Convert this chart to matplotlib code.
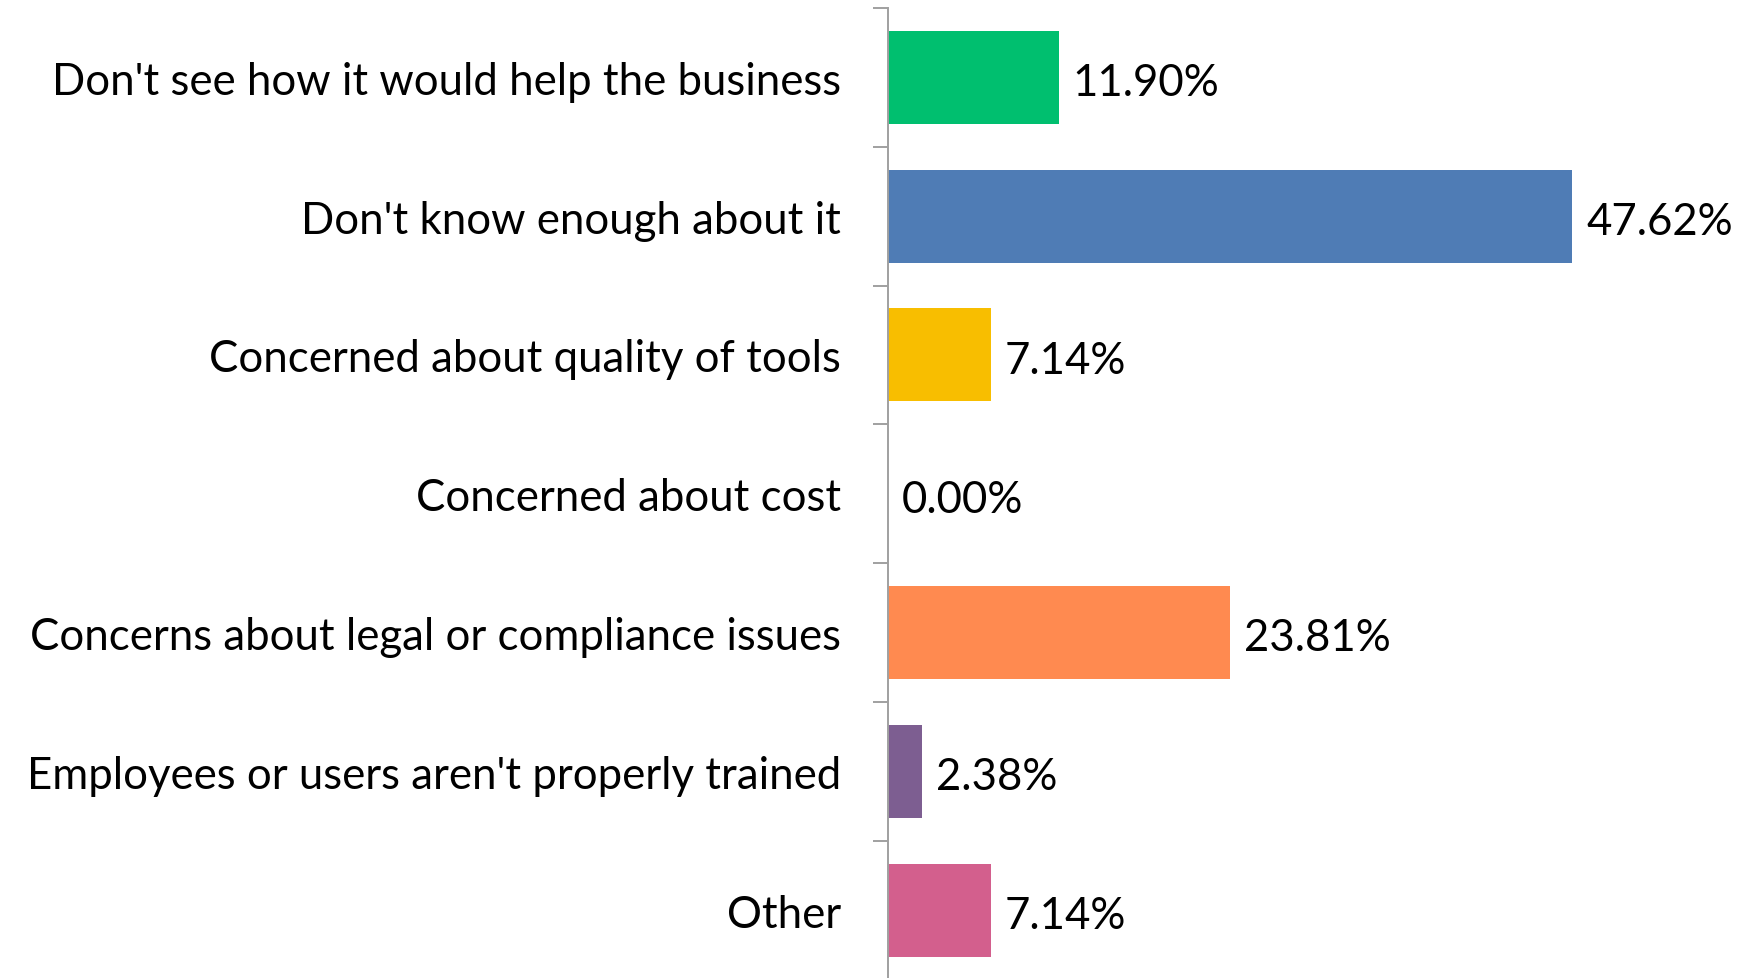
import numpy as np
import matplotlib.pyplot as plt

categories = [
    "Don't see how it would help the business",
    "Don't know enough about it",
    "Concerned about quality of tools",
    "Concerned about cost",
    "Concerns about legal or compliance issues",
    "Employees or users aren't properly trained",
    "Other",
]
values = [11.90, 47.62, 7.14, 0.00, 23.81, 2.38, 7.14]
colors = ['#00BF6F', '#4F7CB5', '#F8BE00', '#A5A5A5', '#FF8A50', '#7D5E91', '#D35F8D']

plt.rcParams['font.family'] = ['Lato', 'DejaVu Sans']

fig = plt.figure(figsize=(17.52, 9.79), dpi=100)
ax = fig.add_axes([0.50685, -0.0016, 0.492, 0.9924])

y = np.arange(len(categories))
ax.barh(y, values, height=0.67, color=colors)

# value labels just right of each bar
for yi, v in zip(y, values):
    ax.annotate(f'{v:.2f}%', (v, yi), xytext=(10, -1), textcoords='offset points',
                ha='left', va='center_baseline', fontsize=31.5, color='black')

ax.set_xlim(0, 60)
ax.set_ylim(len(categories) - 0.5, -0.5)

ax.set_yticks(y)
ax.set_yticklabels(categories, fontsize=31.5)
ax.tick_params(axis='y', which='major', length=0, pad=34)
# tick marks between categories
ax.set_yticks(np.arange(len(categories) + 1) - 0.5, minor=True)
ax.tick_params(axis='y', which='minor', length=10.8, width=1.4, color='#A0A0A0', direction='out')
ax.set_xticks([])

for s in ['top', 'right', 'bottom']:
    ax.spines[s].set_visible(False)
ax.spines['left'].set_color('#A0A0A0')
ax.spines['left'].set_linewidth(1.4)

fig.savefig('out.png', dpi=100)
